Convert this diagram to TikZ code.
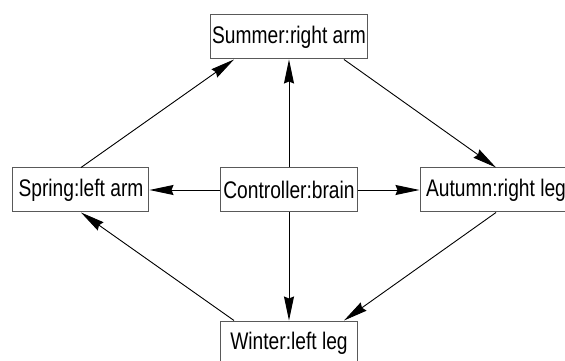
\documentclass[tikz,border=0pt]{standalone}
\usepackage{fontspec}
\setmainfont[FakeStretch=0.8]{Liberation Sans}
\usetikzlibrary{positioning,arrows.meta}
\begin{document}
\begin{tikzpicture}[x=1pt, y=1pt, line width=0.9pt, ->, >={Stealth[length=24pt,width=10pt,inset=2pt]},
  part/.style={rectangle, draw=black!65, line width=1pt, minimum height=44pt, inner sep=0pt, font=\fontsize{24}{28}\selectfont}]

\clip (-289,-171) rectangle (276,190);

% Controller in the middle
\node[part, minimum width=136pt] (brain) {Controller:brain};

% Seasons around it
\node[part, above of=brain, node distance=153pt, minimum width=157pt] (summer) {Summer:right arm};
\node[part, left of=brain, node distance=208pt, minimum width=136pt] (spring) {Spring:left arm};
\node[part, right of=brain, node distance=207pt, minimum width=152pt] (autumn) {Autumn:right leg};
\node[part, below of=brain, node distance=153pt, minimum width=137pt] (winter) {Winter:left leg};

% From the controller
\draw[->] (brain) -- (summer);
\draw[->] (brain) -- (spring);
\draw[->] (brain) -- (autumn);
\draw[->] (brain) -- (winter);

% Round the seasons
\draw[->] (spring.north) -- ([xshift=-55pt]summer.south);
\draw[->] ([xshift=55pt]summer.south) -- (autumn.north);
\draw[->] (autumn.south) -- ([xshift=55pt]winter.north);
\draw[->] ([xshift=-55pt]winter.north) -- (spring.south);

\end{tikzpicture}
\end{document}
